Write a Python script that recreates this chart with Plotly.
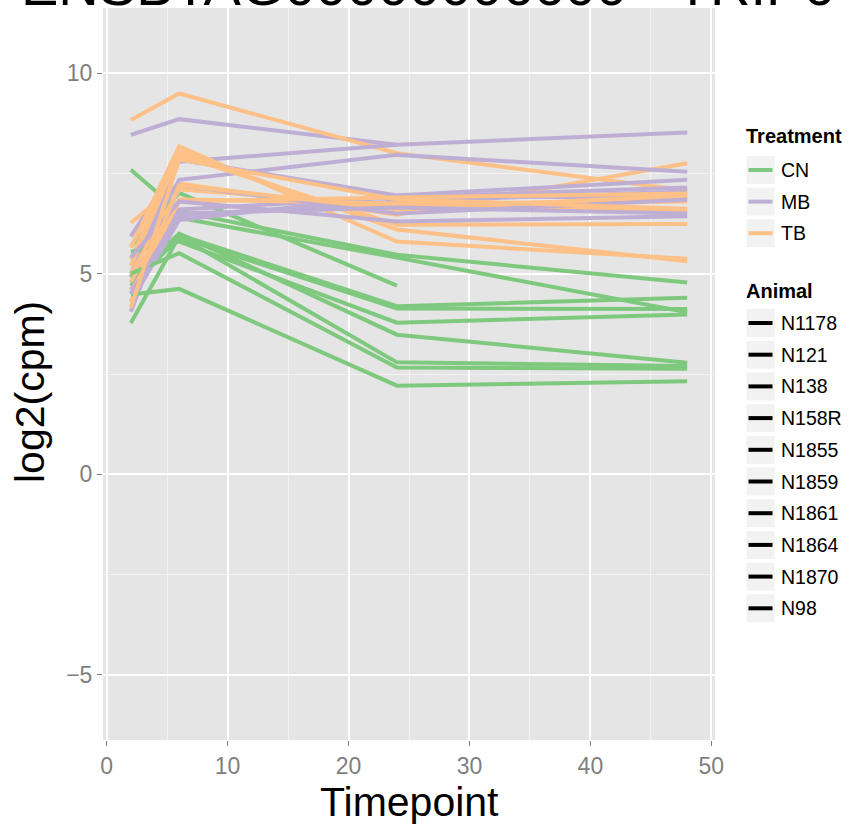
import plotly.graph_objects as go

# ---------------- data ----------------
timepoints = [2, 6, 24, 48]
animals = ["N1178", "N121", "N138", "N158R", "N1855", "N1859", "N1861", "N1864", "N1870", "N98"]
treatments = ["CN", "MB", "TB"]
treatment_colors = ["#7fc97f", "#beaed4", "#fdc086"]

cn_values = [
    [7.59, 6.55, 5.47, 4.78],
    [5.68, 7.01, 4.70, None],
    [4.93, 6.39, 5.40, 4.04],
    [4.78, 5.97, 4.19, 4.40],
    [4.70, 5.90, 4.13, 4.12],
    [5.55, 5.80, 3.78, 3.98],
    [4.90, 6.00, 3.48, 2.78],
    [3.77, 5.93, 2.79, 2.70],
    [5.00, 5.51, 2.66, 2.63],
    [4.48, 4.62, 2.21, 2.32],
]
mb_values = [
    [8.46, 8.85, 8.21, 8.52],
    [5.93, 7.79, 8.21, None],
    [5.20, 7.34, 7.96, 7.54],
    [5.00, 7.84, 6.95, 7.34],
    [4.90, 6.60, 6.90, 7.15],
    [4.60, 6.45, 6.80, 7.05],
    [4.30, 6.34, 6.95, 6.88],
    [4.05, 7.20, 6.50, 6.84],
    [5.40, 6.80, 6.30, 6.43],
    [4.50, 6.50, 6.65, 6.50],
]
tb_values = [
    [8.83, 9.49, 8.00, 7.07],
    [6.27, 7.25, 6.47, 7.75],
    [5.65, 8.17, 5.80, 5.37],
    [5.35, 8.05, 6.10, 5.31],
    [5.20, 7.95, 6.22, 6.24],
    [5.00, 7.10, 6.70, 6.57],
    [4.80, 6.85, 6.75, 6.80],
    [4.50, 6.80, 6.90, 7.00],
    [4.30, 7.20, 6.60, 6.95],
    [4.15, 7.85, 6.85, 6.62],
]

title_text = "ENSBTAG00000006600 - TRIP6"
x_title = "Timepoint"
y_title = "log2(cpm)"
x_ticks = [0, 10, 20, 30, 40, 50]
y_ticks = [-5, 0, 5, 10]
x_range = [-0.3, 50.3]
y_range = [-6.62, 11.62]

# ---------------- figure ----------------
W, H = 849, 828
L, R, T, B = 103, 134, 8, 88
font_family = "Liberation Sans, Arial, sans-serif"

fig = go.Figure()
values_by_treatment = [cn_values, mb_values, tb_values]
for a_idx, animal in enumerate(animals):
    for t_idx, trt in enumerate(treatments):
        fig.add_trace(go.Scatter(
            x=timepoints, y=values_by_treatment[t_idx][a_idx],
            mode="lines", line=dict(color=treatment_colors[t_idx], width=4),
            name=f"{animal} {trt}", showlegend=False, connectgaps=False,
            hoverinfo="x+y+name"))

fig.update_layout(
    width=W, height=H, autosize=False,
    margin=dict(l=L, r=R, t=T, b=B, autoexpand=False),
    paper_bgcolor="white", plot_bgcolor="#e5e5e5",
    font=dict(family=font_family, color="black"),
    showlegend=False,
    xaxis=dict(range=x_range, tickvals=x_ticks, showgrid=True, gridcolor="white",
               gridwidth=1.6, zeroline=False, ticks="outside", ticklen=5,
               tickcolor="#7f7f7f", tickwidth=1.2, automargin=False,
               tickfont=dict(size=23, color="#7f7f7f", family=font_family),
               minor=dict(dtick=5, showgrid=True, gridcolor="#f2f2f2", gridwidth=1)),
    yaxis=dict(range=y_range, tickvals=y_ticks, showgrid=True, gridcolor="white",
               gridwidth=1.6, zeroline=False, ticks="outside", ticklen=5,
               tickcolor="#7f7f7f", tickwidth=1.2, automargin=False,
               tickfont=dict(size=23, color="#7f7f7f", family=font_family),
               minor=dict(dtick=2.5, showgrid=True, gridcolor="#f2f2f2", gridwidth=1)),
)

pw, ph = W - L - R, H - T - B
def px(xp):
    return (xp - L) / pw
def py(yp):
    return (H - B - yp) / ph

annos = []
# title (clipped at top as in the reference)
annos.append(dict(text=title_text, xref="paper", yref="paper",
                  x=px(428), y=py(-15), xanchor="center", yanchor="middle",
                  showarrow=False, font=dict(size=56, family=font_family, color="black")))
# axis titles
annos.append(dict(text=x_title, xref="paper", yref="paper", x=px(409), y=py(802),
                  xanchor="center", yanchor="middle", showarrow=False,
                  font=dict(size=41, family=font_family, color="black")))
annos.append(dict(text=y_title, xref="paper", yref="paper", x=px(30), y=py(392),
                  xanchor="center", yanchor="middle", showarrow=False, textangle=-90,
                  font=dict(size=41, family=font_family, color="black")))

# ---------------- legend (drawn manually, ggplot style) ----------------
shapes = []
def legend_block(title, y_title_px, labels, colors, y_first, step):
    annos.append(dict(text=f"<b>{title}</b>", xref="paper", yref="paper",
                      x=px(744), y=py(y_title_px), xanchor="left", yanchor="middle",
                      showarrow=False, font=dict(size=20, family=font_family, color="black")))
    for i, (lab, col) in enumerate(zip(labels, colors)):
        yc = y_first + i * step
        shapes.append(dict(type="rect", xref="paper", yref="paper",
                           x0=px(746), x1=px(775), y0=py(yc - 14.5), y1=py(yc + 14.5),
                           fillcolor="#f2f2f2", line=dict(color="white", width=1), layer="above"))
        shapes.append(dict(type="line", xref="paper", yref="paper",
                           x0=px(748.5), x1=px(772.5), y0=py(yc), y1=py(yc),
                           line=dict(color=col, width=4), layer="above"))
        annos.append(dict(text=lab, xref="paper", yref="paper",
                          x=px(779), y=py(yc), xanchor="left", yanchor="middle",
                          showarrow=False, font=dict(size=19.5, family=font_family, color="black")))

legend_block("Treatment", 136, treatments, treatment_colors, 170, 31.6)
legend_block("Animal", 291, animals, ["black"] * len(animals), 323, 31.7)

fig.update_layout(shapes=shapes, annotations=annos)

fig.write_html("out.html", config={"displayModeBar": False},
               post_script="document.body.style.margin='0';document.body.style.overflow='hidden';")
